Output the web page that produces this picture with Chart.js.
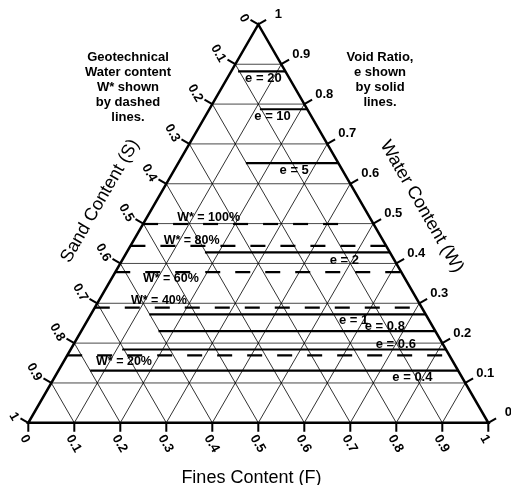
<!DOCTYPE html>
<html>
<head>
<meta charset="utf-8">
<script src="https://cdn.jsdelivr.net/npm/chart.js@4/dist/chart.umd.min.js"></script>
<style>
  html, body { margin: 0; padding: 0; background: #fff; overflow: hidden; }
  #c { display: block; }
</style>
</head>
<body>
<canvas id="c" width="511" height="485"></canvas>
<script>
// Ternary diagram: fines F along the base, water W up the right side, sand S down the left side.
// A point (F, W) sits at x = F + W/2, y = W * sqrt(3)/2 on the chart's linear scales.

const tickValues = [0, 0.1, 0.2, 0.3, 0.4, 0.5, 0.6, 0.7, 0.8, 0.9, 1];
const tickLabels = ['0', '0.1', '0.2', '0.3', '0.4', '0.5', '0.6', '0.7', '0.8', '0.9', '1'];
const gridValues = [0.1, 0.2, 0.3, 0.4, 0.5, 0.6, 0.7, 0.8, 0.9];

// Void ratio e (solid lines): water content of each line and the fines content where it starts
const voidRatios = [20, 10, 5, 2, 1, 0.8, 0.6, 0.4];
const voidRatioW = [0.882, 0.787, 0.652, 0.428, 0.272, 0.230, 0.184, 0.131];
const voidRatioStartF = [0.015, 0.110, 0.147, 0.170, 0.127, 0.168, 0.112, 0.069];

// Geotechnical water content W* (dashed lines): water content and the fines content where each ends
const wStarPercent = [100, 80, 60, 40, 20];
const wStarW = [0.499, 0.444, 0.378, 0.289, 0.169];
const wStarEndF = [0.443, 0.556, 0.622, 0.711, 0.831];

// Where the line labels sit: horizontal position (chart units) and pixel shift from their line
const voidLabelX = [0.511, 0.531, 0.578, 0.687, 0.707, 0.775, 0.799, 0.835];
const voidLabelDy = [7.3, 6.7, 7, 7.7, 5.5, -5.2, -4.8, 7];
const wStarLabelX = [0.392, 0.355, 0.310, 0.284, 0.208];
const wStarLabelDy = [-6, -5, 6.3, -7, 6.5];

const SQ = Math.sqrt(3) / 2;
const pt = (f, w) => ({ x: f + w / 2, y: w * SQ });
const TICK_LEN = 9 / 460;
const FONT = '"Liberation Sans", Arial, Helvetica, sans-serif';

const datasets = [];
function addLine(points, style) {
  datasets.push(Object.assign({
    data: points,
    showLine: true,
    pointRadius: 0,
    pointHoverRadius: 0,
    fill: false,
    clip: false,
    tension: 0,
    borderColor: '#000',
    borderCapStyle: 'butt',
    borderJoinStyle: 'miter'
  }, style));
}

// Triangular grid
const hGrid = { borderColor: 'rgba(0,0,0,0.72)', borderWidth: 1 };
const dGrid = { borderColor: 'rgba(0,0,0,0.9)', borderWidth: 0.9 };
gridValues.forEach(v => {
  addLine([pt(0, v), pt(1 - v, v)], hGrid);       // constant W
  addLine([pt(v, 0), pt(v, 1 - v)], dGrid);       // constant F
  addLine([pt(1 - v, 0), pt(0, 1 - v)], dGrid);   // constant S
});

// Void ratio lines
voidRatioW.forEach((w, i) => {
  addLine([pt(voidRatioStartF[i], w), pt(1 - w, w)], { borderWidth: 2.2 });
});

// Water content lines
wStarW.forEach((w, i) => {
  addLine([pt(0, w), pt(wStarEndF[i], w)], { borderWidth: 2.2, borderDash: [15, 15] });
});

// Triangle outline
addLine([pt(0, 0), pt(1, 0), pt(0, 1), pt(0, 0), pt(1, 0)], { borderWidth: 2.5 });

// Outward ticks on the three sides
const tickStyle = { borderWidth: 2 };
tickValues.forEach(t => {
  addLine([{ x: t, y: 0 }, { x: t, y: -TICK_LEN }], tickStyle);
  const r = pt(1 - t, t);
  addLine([r, { x: r.x + SQ * TICK_LEN, y: r.y + 0.5 * TICK_LEN }], tickStyle);
  const l = pt(0, 1 - t);
  addLine([l, { x: l.x - SQ * TICK_LEN, y: l.y + 0.5 * TICK_LEN }], tickStyle);
});

function drawText(ctx, str, X, Y, angleDeg, align, font) {
  ctx.save();
  ctx.translate(X, Y);
  ctx.rotate(angleDeg * Math.PI / 180);
  ctx.font = font;
  ctx.textAlign = align;
  ctx.textBaseline = 'middle';
  ctx.fillText(str, 0, 0);
  ctx.restore();
}

const ternaryText = {
  id: 'ternaryText',
  afterDatasetsDraw(chart) {
    const { ctx } = chart;
    const xs = chart.scales.x, ys = chart.scales.y;
    const P = p => ({ X: xs.getPixelForValue(p.x), Y: ys.getPixelForValue(p.y) });
    ctx.save();
    ctx.fillStyle = '#000';
    const tickFont = 'bold 13px ' + FONT;

    tickValues.forEach((t, i) => {
      // Fines (base)
      const b = P({ x: t, y: 0 });
      drawText(ctx, tickLabels[i], b.X - 5.1, b.Y + 13.1, 60, 'left', tickFont);
      // Sand (left side)
      const l = P(pt(0, 1 - t));
      drawText(ctx, tickLabels[i], l.X - 12.5, l.Y - 3, 60, 'right', tickFont);
      // Water (right side)
      const r = P(pt(1 - t, t));
      drawText(ctx, tickLabels[i], r.X + 20, r.Y - 10, 0, 'center', tickFont);
    });

    // Line labels
    voidRatios.forEach((e, i) => {
      const X = xs.getPixelForValue(voidLabelX[i]);
      const Y = ys.getPixelForValue(voidRatioW[i] * SQ) + voidLabelDy[i];
      drawText(ctx, 'e = ' + e, X, Y, 0, 'center', 'bold 13px ' + FONT);
    });
    wStarPercent.forEach((p, i) => {
      const X = xs.getPixelForValue(wStarLabelX[i]);
      const Y = ys.getPixelForValue(wStarW[i] * SQ) + wStarLabelDy[i];
      drawText(ctx, 'W* = ' + p + '%', X, Y, 0, 'center', 'bold 12.5px ' + FONT);
    });

    // Axis titles
    const titleFont = '18px ' + FONT;
    const sandT = P({ x: 0.156, y: 0.482 });
    drawText(ctx, 'Sand Content (S)', sandT.X, sandT.Y, -60, 'center', titleFont);
    const waterT = P({ x: 0.855, y: 0.470 });
    drawText(ctx, 'Water Content (W)', waterT.X, waterT.Y, 60, 'center', titleFont);
    const finesT = P({ x: 0.485, y: -0.12 });
    drawText(ctx, 'Fines Content (F)', finesT.X, finesT.Y, 0, 'center', titleFont);

    // Notes
    const noteFont = 'bold 13px ' + FONT;
    const leftNote = ['Geotechnical', 'Water content', 'W* shown', 'by dashed', 'lines.'];
    const rightNote = ['Void Ratio,', 'e shown', 'by solid', 'lines.'];
    const ln = P({ x: 0.2167, y: 0.795 });
    leftNote.forEach((s, i) => drawText(ctx, s, ln.X, ln.Y + 15 * i, 0, 'center', noteFont));
    const rn = P({ x: 0.7646, y: 0.795 });
    rightNote.forEach((s, i) => drawText(ctx, s, rn.X, rn.Y + 15 * i, 0, 'center', noteFont));

    ctx.restore();
  }
};

new Chart(document.getElementById('c'), {
  type: 'scatter',
  data: { datasets },
  options: {
    responsive: false,
    devicePixelRatio: 1,
    animation: false,
    events: [],
    layout: { padding: { left: 28.3, right: 22.7, top: 24.4, bottom: 62.2 } },
    scales: {
      x: { type: 'linear', min: 0, max: 1, display: false },
      y: { type: 'linear', min: 0, max: SQ, display: false }
    },
    plugins: { legend: { display: false }, tooltip: { enabled: false } }
  },
  plugins: [ternaryText]
});
</script>
</body>
</html>
